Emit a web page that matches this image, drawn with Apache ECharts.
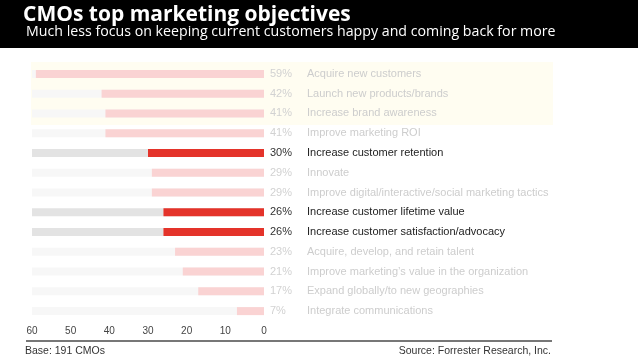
<!DOCTYPE html>
<html><head><meta charset="utf-8">
<script src="https://cdn.jsdelivr.net/npm/echarts@6/dist/echarts.min.js"></script>
<style>html,body{margin:0;padding:0;background:#fff}#c{width:638px;height:359px}</style>
</head><body><div id="c"></div>
<script>
var categories = ["Acquire new customers","Launch new products/brands","Increase brand awareness","Improve marketing ROI","Increase customer retention","Innovate","Improve digital/interactive/social marketing tactics","Increase customer lifetime value","Increase customer satisfaction/advocacy","Acquire, develop, and retain talent","Improve marketing\u2019s value in the organization","Expand globally/to new geographies","Integrate communications"];
var values = [59,42,41,41,30,29,29,26,26,23,21,17,7];
var highlighted = [0,0,0,0,1,0,0,1,1,0,0,0,0];
var backdrop = [60,60,60,60,60,60,60,60,60,60,60,60,60];
var tickValues = [0,10,20,30,40,50,60];

var chart = echarts.init(document.getElementById('c'), null, {renderer:'canvas'});
var FONT = '"Liberation Sans", Arial, sans-serif';
chart.setOption({
  animation:false,
  backgroundColor:'#fff',
  grid:{left:32,right:374,top:64,bottom:38},
  xAxis:{type:'value',inverse:true,min:0,max:60,interval:10,
    axisLine:{show:false},axisTick:{show:false},splitLine:{show:false},
    axisLabel:{margin:5,fontSize:10,color:'#444',fontFamily:FONT,
      formatter:function(v){return tickValues.indexOf(v)>=0?String(v):'';}}},
  yAxis:{type:'category',inverse:true,position:'right',data:categories,
    axisLine:{show:false},axisTick:{show:false},splitLine:{show:false},
    axisLabel:{margin:6,align:'left',fontFamily:FONT,
      formatter:function(v,i){var h=highlighted[i]?'h':'f';return '{'+h+'p|'+values[i]+'%}{'+h+'t|'+v+'}';},
      rich:{
        hp:{width:37,fontSize:11,color:'#333',fontFamily:FONT},
        ht:{fontSize:11,color:'#222',fontFamily:FONT},
        fp:{width:37,fontSize:11,color:'#d2d2d2',fontFamily:FONT},
        ft:{fontSize:11,color:'#cdcdcd',fontFamily:FONT}
      }}},
  graphic:[
    {type:'rect',shape:{x:0,y:0,width:638,height:48},style:{fill:'#000'},z:-10},
    {type:'rect',shape:{x:31,y:62,width:522,height:63},style:{fill:'#fffdf1'},z:-10},
    {type:'text',x:23,y:15,style:{text:'CMOs top marketing objectives',fill:'#fff',font:'bold 21px "Open Sans", sans-serif',textVerticalAlign:'middle'}},
    {type:'text',x:26,y:32,style:{text:'Much less focus on keeping current customers happy and coming back for more',fill:'#fff',font:'14.2px "Open Sans", sans-serif',textVerticalAlign:'middle'}},
    {type:'line',shape:{x1:26,y1:341,x2:552,y2:341},style:{stroke:'#777',lineWidth:2}},
    {type:'text',x:25,y:351,style:{text:'Base: 191 CMOs',fill:'#333',font:'10.5px "Liberation Sans", Arial, sans-serif',textVerticalAlign:'middle'}},
    {type:'text',x:551,y:351,style:{text:'Source: Forrester Research, Inc.',fill:'#333',font:'10.5px "Liberation Sans", Arial, sans-serif',textAlign:'right',textVerticalAlign:'middle'}}
  ],
  series:[
    {type:'bar',barWidth:8,silent:true,z:1,
      data:backdrop.map(function(v,i){return {value:v,itemStyle:{color:highlighted[i]?'#e3e3e3':'#f7f7f7'}};})},
    {type:'bar',barWidth:8,barGap:'-100%',z:2,
      data:values.map(function(v,i){return {value:v,itemStyle:{color:highlighted[i]?'#e4332a':'#fad3d3'}};})}
  ]
});
</script></body></html>
